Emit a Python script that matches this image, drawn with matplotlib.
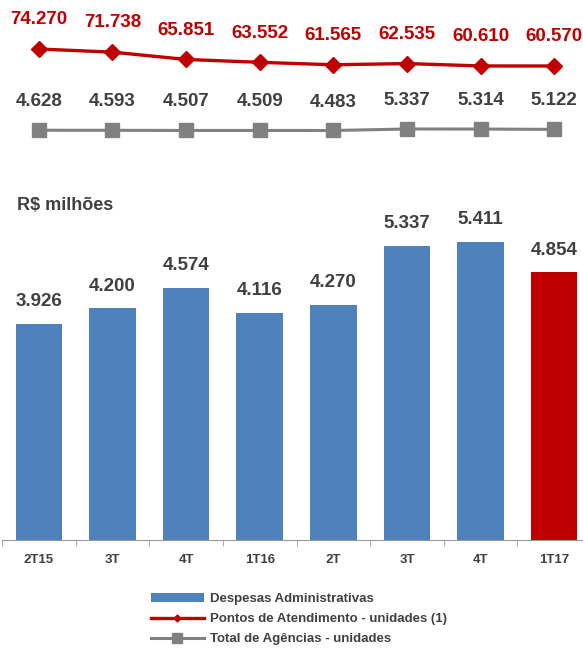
import matplotlib
matplotlib.use("Agg")
import matplotlib.pyplot as plt
from matplotlib.patches import Patch
from matplotlib.lines import Line2D

plt.rcParams['font.family'] = ['Liberation Sans', 'DejaVu Sans']

# quarterly series
quarters = ['2T15', '3T', '4T', '1T16', '2T', '3T', '4T', '1T17']
despesas = [3.926, 4.200, 4.574, 4.116, 4.270, 5.337, 5.411, 4.854]
pontos = [74270, 71738, 65851, 63552, 61565, 62535, 60610, 60570]
agencias = [4628, 4593, 4507, 4509, 4483, 5337, 5314, 5122]

BLUE = '#4F81BD'
RED = '#C00000'
GRAY = '#808080'
TXT = '#404040'

W, H = 583, 648
fig = plt.figure(figsize=(W / 100, H / 100), dpi=100)

def px_axes(left, top, right, bottom):
    return fig.add_axes([left / W, 1 - bottom / H, (right - left) / W, (bottom - top) / H])

x = list(range(len(quarters)))
xr = (-0.5, len(quarters) - 0.5)

# bar chart of administrative expenses
ax = px_axes(2, 201, 591, 540)
colors = [BLUE] * (len(quarters) - 1) + [RED]
ax.bar(x, despesas, width=0.63, color=colors, edgecolor='none')
for xi, v in zip(x, despesas):
    ax.annotate(f'{v:.3f}', (xi, v), xytext=(0, 16), textcoords='offset points',
                ha='center', va='center', fontsize=13.5, fontweight='bold', color=TXT)
ax.set_xlim(*xr)
ax.set_ylim(0, 6.15)
for s in ['top', 'right', 'left']:
    ax.spines[s].set_visible(False)
ax.spines['bottom'].set_color('#999999')
ax.set_yticks([])
ax.set_xticks(x)
ax.set_xticklabels(quarters, fontsize=9.5, fontweight='bold', color=TXT)
ax.tick_params(axis='x', which='major', length=0, pad=10)
ax.set_xticks([i - 0.5 for i in range(len(quarters) + 1)], minor=True)
ax.tick_params(axis='x', which='minor', length=4, color='#999999')

# service points line
ax_r = px_axes(2, 0, 591, 90)
ax_r.plot(x, pontos, color=RED, lw=2.4, marker='D', markersize=8, clip_on=False)
for xi, v in zip(x, pontos):
    ax_r.annotate(f'{v / 1000:.3f}', (xi, v), xytext=(0, 21), textcoords='offset points',
                  ha='center', va='center', fontsize=13.5, fontweight='bold', color=RED)
ax_r.set_xlim(*xr)
ax_r.set_ylim(41224, 113764)
ax_r.axis('off')

# branch count line
ax_g = px_axes(2, 80, 591, 150)
ax_g.plot(x, agencias, color=GRAY, lw=2.2, marker='s', markersize=10, clip_on=False)
for xi, v in zip(x, agencias):
    ax_g.annotate(f'{v / 1000:.3f}', (xi, v), xytext=(0, 20.5), textcoords='offset points',
                  ha='center', va='center', fontsize=13.5, fontweight='bold', color=TXT)
ax_g.set_xlim(*xr)
ax_g.set_ylim(-6613, 33217)
ax_g.axis('off')

fig.text(17 / W, 1 - 205 / H, 'R$ milhões', ha='left', va='center',
         fontsize=13, fontweight='bold', color=TXT)

handles = [
    Patch(facecolor=BLUE, edgecolor='none'),
    Line2D([], [], color=RED, lw=2.4, marker='D', markersize=3.5),
    Line2D([], [], color=GRAY, lw=2.2, marker='s', markersize=7),
]
labels = ['Despesas Administrativas', 'Pontos de Atendimento - unidades (1)',
          'Total de Agências - unidades']
fig.legend(handles, labels, loc='upper left', bbox_to_anchor=(151 / W, 1 - 593 / H),
           frameon=False, borderpad=0, borderaxespad=0, handlelength=4.0,
           handleheight=0.6, handletextpad=0.45, labelspacing=0.62,
           prop={'size': 9.5, 'weight': 'bold'}, labelcolor=TXT)

fig.savefig('out.png', dpi=100)
